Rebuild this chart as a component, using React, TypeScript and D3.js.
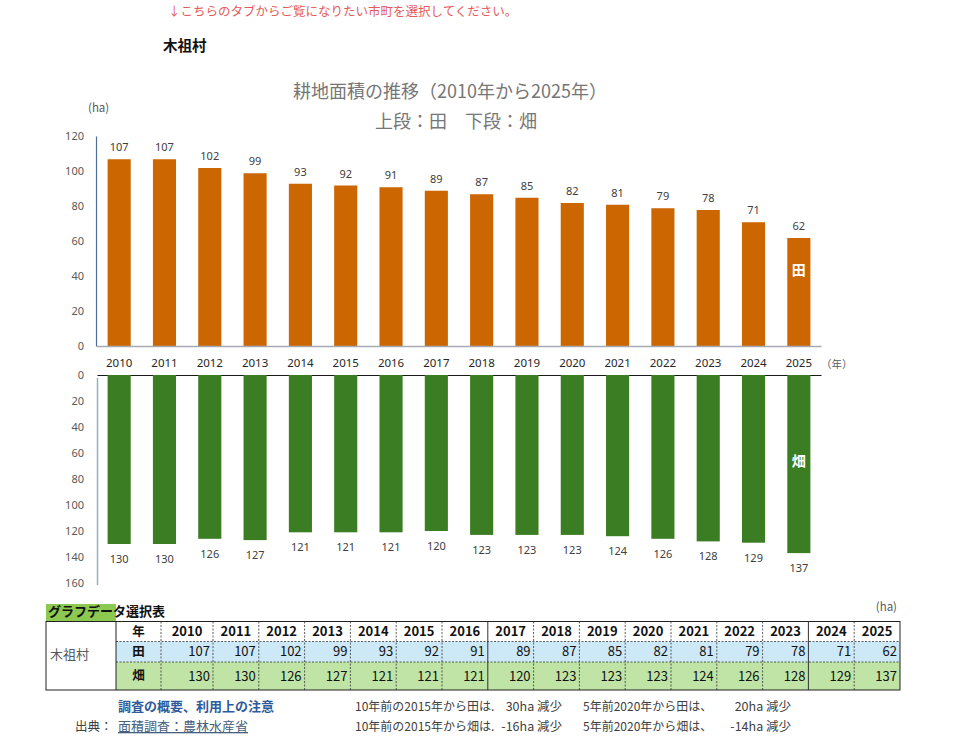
import React from "react";
import * as d3 from "d3";

// Cultivated land area for 木祖村 (ha), 2010–2025
const years = ["2010", "2011", "2012", "2013", "2014", "2015", "2016", "2017", "2018", "2019", "2020", "2021", "2022", "2023", "2024", "2025"];
const paddy = [107, 107, 102, 99, 93, 92, 91, 89, 87, 85, 82, 81, 79, 78, 71, 62];
const upland = [130, 130, 126, 127, 121, 121, 121, 120, 123, 123, 123, 124, 126, 128, 129, 137];
const upperTicks = [0, 20, 40, 60, 80, 100, 120];
const lowerTicks = [0, 20, 40, 60, 80, 100, 120, 140, 160];

const JP = "'Noto Sans CJK JP', 'Noto Sans', sans-serif";
const NUM = "'Noto Sans', 'Liberation Sans', sans-serif";
const ORANGE = "#CC6600";
const GREEN = "#3B7D23";

export default function App() {
  const x = d3
    .scaleBand<string>()
    .domain(years)
    .range([96.5, 821.5])
    .paddingInner(0.49)
    .paddingOuter(0.245);
  const yUp = d3.scaleLinear().domain([0, 120]).range([346.5, 136.5]);
  const yDown = d3.scaleLinear().domain([0, 160]).range([375, 583]);
  const bw = x.bandwidth();
  const cx = (y: string) => (x(y) as number) + bw / 2;

  // table columns
  const tLeft = 46;
  const tRight = 900;
  const colLabelX0 = 116;
  const colYearX0 = 161;
  const firstYearW = 52;
  const restW = (tRight - colYearX0 - firstYearW) / (years.length - 1);
  const colEdges: number[] = [colYearX0];
  years.forEach((_, i) => colEdges.push(colEdges[i] + (i === 0 ? firstYearW : restW)));
  const rowY = [621.5, 641.5, 662, 690];

  const idx = (y: string) => years.indexOf(y);
  const last = years.length - 1;
  const paddy10 = paddy[idx("2015")] - paddy[last];
  const upland10 = upland[idx("2015")] - upland[last];
  const paddy5 = paddy[idx("2020")] - paddy[last];
  const upland5 = upland[idx("2020")] - upland[last];

  return (
    <svg
      width={960}
      height={739}
      style={{ position: "absolute", left: 0, top: 0, background: "#fff" }}
    >
      <rect width={960} height={739} fill="#fff" />
      <text x={168} y={16} fontFamily={JP} fontSize={12.5} fill="#E55A5A">
        ↓こちらのタブからご覧になりたい市町を選択してください。
      </text>
      <text x={163} y={51} fontFamily={JP} fontSize={14.5} fontWeight="bold" fill="#111">
        木祖村
      </text>

      {/* titles */}
      <text x={450} y={98} textAnchor="middle" fontFamily={JP} fontSize={18} fill="#767676">
        耕地面積の推移（2010年から2025年）
      </text>
      <text x={456} y={128} textAnchor="middle" fontFamily={JP} fontSize={18} fill="#767676">
        上段：田　下段：畑
      </text>
      <text x={88} y={112} fontFamily={JP} fontSize={11.5} fill="#595959">
        (ha)
      </text>

      {/* upper chart: paddy */}
      {upperTicks.map((t) => (
        <text key={"u" + t} x={84} y={yUp(t)} dy="0.35em" textAnchor="end" fontFamily={NUM} fontSize={11} fill="#595959">
          {t}
        </text>
      ))}
      {years.map((y, i) => (
        <rect key={"p" + y} x={x(y)} y={yUp(paddy[i])} width={bw} height={yUp(0) - yUp(paddy[i])} fill={ORANGE} />
      ))}
      {years.map((y, i) => (
        <text key={"pl" + y} x={cx(y)} y={yUp(paddy[i]) - 8} textAnchor="middle" fontFamily={NUM} fontSize={11} fill="#404040">
          {paddy[i]}
        </text>
      ))}
      <line x1={96.5} x2={96.5} y1={yUp(120)} y2={yUp(0)} stroke="#4F6E96" strokeWidth={1.2} />
      <line x1={96.5} x2={821.5} y1={yUp(0)} y2={yUp(0)} stroke="#A5AAB4" strokeWidth={1.5} />
      <text x={cx("2025")} y={275} textAnchor="middle" fontFamily={JP} fontSize={14} fontWeight="bold" fill="#fff">
        田
      </text>

      {/* year labels */}
      {years.map((y) => (
        <text key={"yl" + y} x={cx(y)} y={367} textAnchor="middle" fontFamily={NUM} fontSize={11.5} fill="#262626">
          {y}
        </text>
      ))}
      <text x={821} y={368} fontFamily={JP} fontSize={10.5} fill="#595959">
        （年）
      </text>

      {/* lower chart: upland */}
      {lowerTicks.map((t) => (
        <text key={"d" + t} x={84} y={yDown(t)} dy="0.35em" textAnchor="end" fontFamily={NUM} fontSize={11} fill="#595959">
          {t}
        </text>
      ))}
      <line x1={97.5} x2={821.5} y1={yDown(0) + 0.5} y2={yDown(0) + 0.5} stroke="#1a1a1a" strokeWidth={1} />
      {years.map((y, i) => (
        <rect key={"f" + y} x={x(y)} y={yDown(0)} width={bw} height={yDown(upland[i]) - yDown(0)} fill={GREEN} />
      ))}
      {years.map((y, i) => (
        <text key={"fl" + y} x={cx(y)} y={yDown(upland[i]) + 19} textAnchor="middle" fontFamily={NUM} fontSize={11} fill="#404040">
          {upland[i]}
        </text>
      ))}
      <line x1={97.5} x2={97.5} y1={378} y2={585} stroke="#93AEC6" strokeWidth={1.5} />
      <text x={cx("2025")} y={466} textAnchor="middle" fontFamily={JP} fontSize={14} fontWeight="bold" fill="#fff">
        畑
      </text>

      {/* data table */}
      <rect x={tLeft} y={604} width={colLabelX0 - tLeft} height={17.5} fill="#8DC850" />
      <text x={48} y={616} fontFamily={JP} fontSize={13} fontWeight="bold" fill="#111">
        グラフデータ選択表
      </text>
      <text x={897} y={611} textAnchor="end" fontFamily={JP} fontSize={11.5} fill="#595959">
        (ha)
      </text>
      <rect x={colLabelX0} y={rowY[1]} width={tRight - colLabelX0} height={rowY[2] - rowY[1]} fill="#CDE9F8" />
      <rect x={colLabelX0} y={rowY[2]} width={tRight - colLabelX0} height={rowY[3] - rowY[2]} fill="#BFE4A6" />
      {/* row dividers */}
      {[rowY[1], rowY[2]].map((ry, i) => (
        <line key={"rd" + i} x1={colLabelX0} x2={tRight} y1={ry} y2={ry} stroke="#333" strokeWidth={0.8} strokeDasharray="2,1.5" />
      ))}
      {/* column dividers */}
      {colEdges.slice(0, -1).map((ex, i) => {
        const solid = years[i] === "2017" || years[i] === "2024";
        return (
          <line
            key={"cd" + i}
            x1={ex}
            x2={ex}
            y1={rowY[0]}
            y2={rowY[3]}
            stroke="#333"
            strokeWidth={solid ? 1 : 0.8}
            strokeDasharray={solid ? undefined : "2,1.5"}
          />
        );
      })}
      <line x1={colLabelX0} x2={colLabelX0} y1={rowY[0]} y2={rowY[3]} stroke="#222" strokeWidth={1} />
      <rect x={tLeft} y={rowY[0]} width={tRight - tLeft} height={rowY[3] - rowY[0]} fill="none" stroke="#222" strokeWidth={1} />
      <text x={50} y={(rowY[0] + rowY[3]) / 2 - 1} dy="0.35em" fontFamily={JP} fontSize={13} fill="#595959">
        木祖村
      </text>
      {["年", "田", "畑"].map((lab, r) => (
        <text
          key={"rl" + lab}
          x={(colLabelX0 + colYearX0) / 2}
          y={(rowY[r] + rowY[r + 1]) / 2}
          dy="0.35em"
          textAnchor="middle"
          fontFamily={JP}
          fontSize={12.5}
          fontWeight="bold"
          fill="#111"
        >
          {lab}
        </text>
      ))}
      {years.map((y, i) => (
        <g key={"tc" + y}>
          <text
            x={(colEdges[i] + colEdges[i + 1]) / 2}
            y={(rowY[0] + rowY[1]) / 2}
            dy="0.35em"
            textAnchor="middle"
            fontFamily={JP}
            fontSize={13}
            fontWeight="bold"
            fill="#111"
          >
            {y}
          </text>
          <text x={colEdges[i + 1] - 3} y={(rowY[1] + rowY[2]) / 2} dy="0.35em" textAnchor="end" fontFamily={JP} fontSize={13} fill="#111">
            {paddy[i]}
          </text>
          <text x={colEdges[i + 1] - 3} y={(rowY[2] + rowY[3]) / 2} dy="0.35em" textAnchor="end" fontFamily={JP} fontSize={13} fill="#111">
            {upland[i]}
          </text>
        </g>
      ))}

      {/* notes */}
      <text x={118} y={711} fontFamily={JP} fontSize={13} fontWeight="bold" fill="#2F5B9A">
        調査の概要、利用上の注意
      </text>
      <text x={75} y={731} fontFamily={JP} fontSize={12.5} fill="#404040">
        出典：
      </text>
      <text x={118} y={731} fontFamily={JP} fontSize={13} fill="#44607E" textDecoration="underline">
        面積調査：農林水産省
      </text>
      <text x={355} y={711} fontFamily={JP} fontSize={12} fill="#404040">
        10年前の2015年から田は.
      </text>
      <text x={562} y={711} textAnchor="end" fontFamily={JP} fontSize={12.5} fill="#404040">
        {paddy10}ha 減少
      </text>
      <text x={583} y={711} fontFamily={JP} fontSize={12} fill="#404040">
        5年前2020年から田は、
      </text>
      <text x={791} y={711} textAnchor="end" fontFamily={JP} fontSize={12.5} fill="#404040">
        {paddy5}ha 減少
      </text>
      <text x={355} y={731} fontFamily={JP} fontSize={12} fill="#404040">
        10年前の2015年から畑は.
      </text>
      <text x={562} y={731} textAnchor="end" fontFamily={JP} fontSize={12.5} fill="#404040">
        {upland10}ha 減少
      </text>
      <text x={583} y={731} fontFamily={JP} fontSize={12} fill="#404040">
        5年前2020年から畑は、
      </text>
      <text x={791} y={731} textAnchor="end" fontFamily={JP} fontSize={12.5} fill="#404040">
        {upland5}ha 減少
      </text>
    </svg>
  );
}
